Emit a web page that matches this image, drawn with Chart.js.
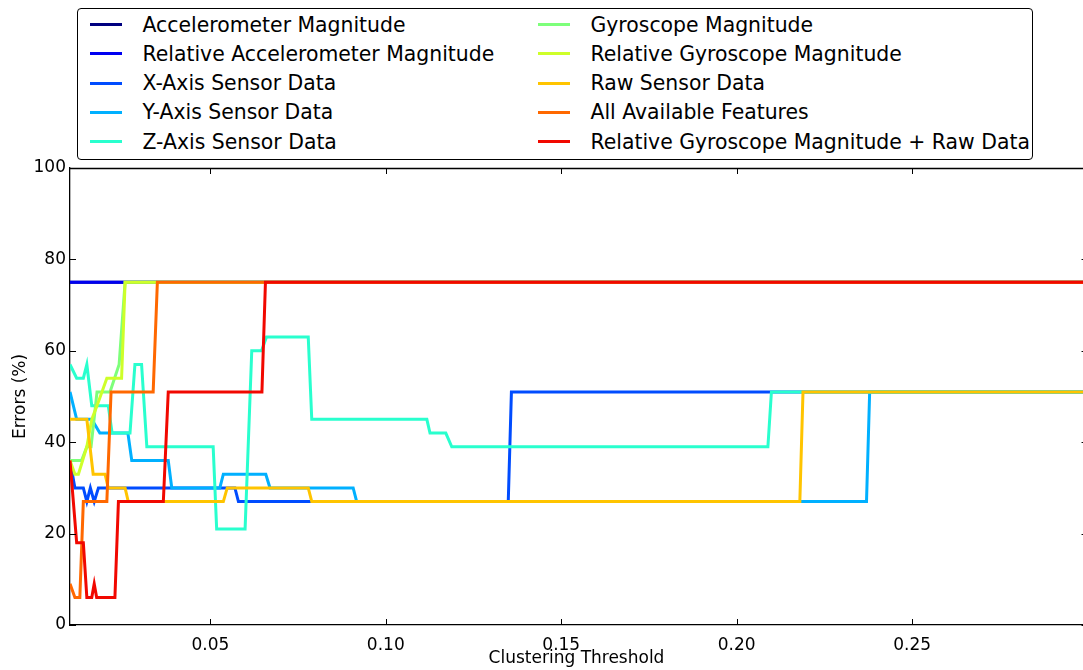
<!DOCTYPE html>
<html>
<head>
<meta charset="utf-8">
<title>Errors vs Clustering Threshold</title>
<script src="https://cdn.jsdelivr.net/npm/chart.js@4.4.0/dist/chart.umd.min.js"></script>
<style>
  html, body { margin: 0; padding: 0; background: #fff; }
  #wrap { position: relative; width: 1083px; height: 670px; overflow: hidden; }
  #legend {
    position: absolute; left: 77px; top: 8px; width: 956px; height: 152px;
    box-sizing: border-box; border: 1.5px solid #000; border-radius: 4px; background: #fff;
    font-family: "DejaVu Sans", sans-serif; font-size: 20.4px; color: #000;
  }
  .item { position: absolute; height: 30px; display: flex; align-items: center; white-space: nowrap; }
  .swatch { display: inline-block; width: 32px; height: 3px; margin-right: 21px; }
</style>
</head>
<body>
<div id="wrap">
  <canvas id="chart"></canvas>
  <div id="legend"></div>
</div>
<script>
// === Datos ===
const xTicks = [0.05, 0.10, 0.15, 0.20, 0.25];
const yTicks = [0, 20, 40, 60, 80, 100];
const thresholdMin = 0.01;
const thresholdMax = 0.2987;

const seriesNames = [
  "Accelerometer Magnitude",
  "Relative Accelerometer Magnitude",
  "X-Axis Sensor Data",
  "Y-Axis Sensor Data",
  "Z-Axis Sensor Data",
  "Gyroscope Magnitude",
  "Relative Gyroscope Magnitude",
  "Raw Sensor Data",
  "All Available Features",
  "Relative Gyroscope Magnitude + Raw Data"
];
const seriesColors = ["#000080", "#0000f1", "#004cff", "#00b0ff", "#29ffce",
                      "#7dff7a", "#ceff29", "#ffc400", "#ff6800", "#f10800"];

// [threshold, error %]
const accelMag = [[0.010,75],[0.300,75]];
const relAccelMag = [[0.010,75],[0.300,75]];
const xAxisData = [[0.010,36],[0.0114,30],[0.0138,30],[0.0148,27],[0.0158,30],[0.0169,27],[0.0181,30],
  [0.0570,30],[0.0580,27],[0.1349,27],[0.1358,51],[0.300,51]];
const yAxisData = [[0.010,51],[0.0119,45],[0.0162,45],[0.0185,42],[0.0265,42],[0.0276,36],[0.0380,36],
  [0.0390,30],[0.0527,30],[0.0537,33],[0.0658,33],[0.0670,30],[0.0907,30],[0.0917,27],
  [0.2370,27],[0.2379,51],[0.300,51]];
const zAxisData = [[0.010,57],[0.0119,54],[0.0138,54],[0.0148,57],[0.0162,48],[0.0209,48],[0.0220,42],
  [0.0271,42],[0.0285,57],[0.0304,57],[0.0319,39],[0.0508,39],[0.0518,21],[0.0599,21],[0.0618,60],
  [0.0646,60],[0.0660,63],[0.0779,63],[0.0789,45],[0.1117,45],[0.1126,42],[0.1171,42],[0.1188,39],
  [0.2089,39],[0.2099,51],[0.300,51]];
const gyroMag = [[0.010,36],[0.0133,36],[0.0148,39],[0.0160,39],[0.0177,51],[0.0214,51],[0.0240,57],
  [0.0257,75],[0.300,75]];
const relGyroMag = [[0.010,36],[0.0114,33],[0.0124,33],[0.0148,39],[0.0162,45],[0.0177,48],[0.0205,54],
  [0.0247,54],[0.0257,75],[0.300,75]];
const rawData = [[0.010,45],[0.0148,45],[0.0166,33],[0.0200,33],[0.0209,30],[0.0257,30],[0.0266,27],
  [0.0537,27],[0.0548,30],[0.0779,30],[0.0789,27],[0.2180,27],[0.2189,51],[0.300,51]];
const allFeatures = [[0.010,9],[0.0114,6],[0.0128,6],[0.0138,27],[0.0205,27],[0.0217,51],[0.0337,51],
  [0.0349,75],[0.300,75]];
const relGyroRaw = [[0.010,36],[0.0119,18],[0.0138,18],[0.0148,6],[0.0162,6],[0.0169,9],[0.0176,6],
  [0.0228,6],[0.0238,27],[0.0366,27],[0.0380,51],[0.0647,51],[0.0657,75],[0.300,75]];

const seriesValues = [accelMag, relAccelMag, xAxisData, yAxisData, zAxisData,
                      gyroMag, relGyroMag, rawData, allFeatures, relGyroRaw];

// === Estilo ===
const FONT = { family: "DejaVu Sans", size: 17 };

const datasets = seriesNames.map((name, i) => ({
  label: name,
  data: seriesValues[i].map(p => ({ x: p[0], y: p[1] })),
  borderColor: seriesColors[i],
  backgroundColor: seriesColors[i],
  borderWidth: 3,
  pointRadius: 0,
  tension: 0,
  fill: false,
  order: seriesNames.length - 1 - i   // la última serie queda encima, como en el original
}));

// Ticks hacia dentro y marco superior (estilo matplotlib)
const frameTicks = {
  id: "frameTicks",
  afterDraw(chart){
    const { ctx, chartArea: a, scales: { x, y } } = chart;
    const len = 6;
    const rightSpine = x.getPixelForValue(0.3);
    ctx.save();
    ctx.strokeStyle = "#000";
    ctx.lineWidth = 1.3;
    ctx.beginPath();
    ctx.moveTo(a.left, a.top + 0.5); ctx.lineTo(a.right, a.top + 0.5);
    ctx.stroke();
    ctx.lineWidth = 1;
    ctx.beginPath();
    xTicks.forEach(v => {
      const px = Math.round(x.getPixelForValue(v)) + 0.5;
      ctx.moveTo(px, a.bottom); ctx.lineTo(px, a.bottom - len);
      ctx.moveTo(px, a.top); ctx.lineTo(px, a.top + len);
    });
    yTicks.forEach(v => {
      const py = Math.round(y.getPixelForValue(v)) + 0.5;
      ctx.moveTo(a.left, py); ctx.lineTo(a.left + len, py);
      ctx.moveTo(rightSpine - len, py); ctx.lineTo(rightSpine, py);
    });
    ctx.stroke();
    ctx.restore();
  }
};

const chart = new Chart(document.getElementById("chart"), {
  type: "line",
  data: { datasets },
  options: {
    animation: false,
    responsive: true,
    maintainAspectRatio: false,
    layout: { padding: { top: 168, right: 0, left: 0, bottom: 0 } },
    plugins: { legend: { display: false }, tooltip: { enabled: false } },
    scales: {
      x: {
        type: "linear",
        min: thresholdMin,
        max: thresholdMax,
        afterBuildTicks: s => { s.ticks = xTicks.map(v => ({ value: v })); },
        afterFit: s => { s.height = 45; },
        grid: { display: false, drawTicks: false },
        border: { display: true, color: "#000", width: 1.3 },
        ticks: { font: FONT, color: "#000", padding: 10, maxRotation: 0, autoSkip: false,
                 callback: v => Number(v).toFixed(2) },
        title: { display: true, text: "Clustering Threshold", font: FONT, color: "#000",
                 padding: { top: 0, bottom: 1 } }
      },
      y: {
        min: 0,
        max: 100,
        afterBuildTicks: s => { s.ticks = yTicks.map(v => ({ value: v })); },
        afterFit: s => { s.width = 70; },
        grid: { display: false, drawTicks: false },
        border: { display: true, color: "#000", width: 1.3 },
        ticks: { font: FONT, color: "#000", padding: 4 },
        title: { display: true, text: "Errors (%)", font: FONT, color: "#000",
                 padding: { top: 10, bottom: 0 } }
      }
    }
  },
  plugins: [frameTicks]
});

// Leyenda en dos columnas (orden por columnas, como el original)
const elLegend = document.getElementById("legend");
seriesNames.forEach((name, i) => {
  const col = Math.floor(i / 5), row = i % 5;
  const item = document.createElement("div");
  item.className = "item";
  item.style.left = (col ? 459.5 : 11.5) + "px";
  item.style.top = (row * 29.3 + 0.5) + "px";
  item.innerHTML = `<span class="swatch" style="background:${seriesColors[i]}"></span><span>${name}</span>`;
  elLegend.appendChild(item);
});
</script>
</body>
</html>
